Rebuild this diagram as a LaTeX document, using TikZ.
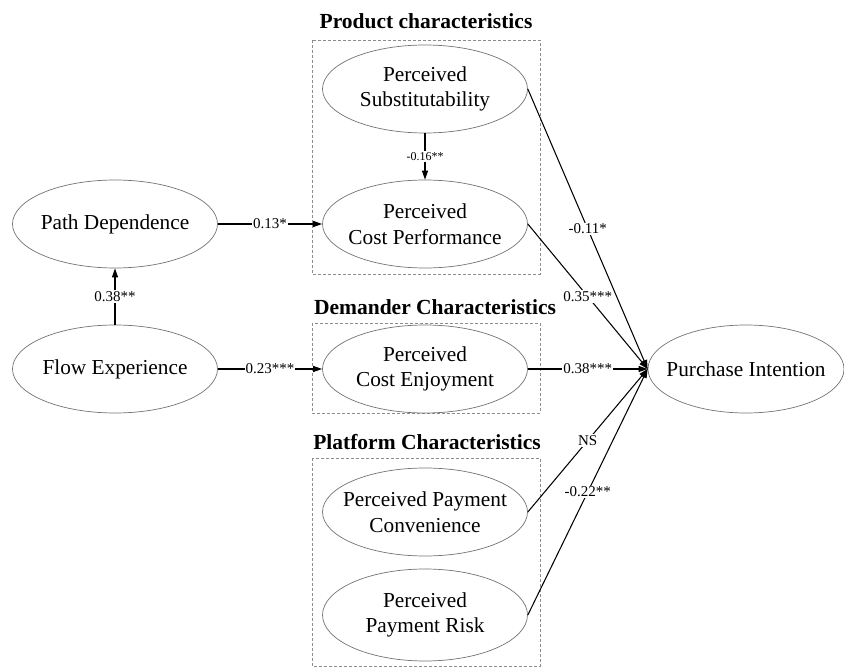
\documentclass[tikz,border=0pt]{standalone}
\usepackage{fontspec}
\setmainfont{Liberation Serif}
\usetikzlibrary{shapes.geometric,arrows.meta}
\begin{document}
\begin{tikzpicture}[x=1pt,y=-1pt,
  latent/.style={ellipse,draw=black!55,line width=0.7pt,minimum width=205pt,minimum height=88pt,inner xsep=-18pt,inner ysep=0pt,align=center,font=\fontsize{21.3}{25.5}\selectfont},
  groupbox/.style={draw=black!45,dashed,dash pattern=on 3pt off 2pt,line width=0.7pt},
  grouptitle/.style={font=\fontsize{21.5}{24}\selectfont\bfseries},
  path/.style={draw=black,line width=1.05pt,-{Triangle[length=9pt,width=6pt]}},
  coef/.style={fill=white,inner sep=1pt,font=\fontsize{15}{17}\selectfont},
  coefs/.style={fill=white,inner sep=1pt,font=\fontsize{12}{13}\selectfont}]
\useasboundingbox (0,0) rectangle (844,668);
% group boxes
\draw[groupbox] (312,40) rectangle (540,274);
\draw[groupbox] (312,323) rectangle (540,413);
\draw[groupbox] (312,458) rectangle (540,666);
\node[grouptitle] (t1) at (426,21) {Product characteristics};
\node[grouptitle] (t2) at (435,307) {Demander Characteristics};
\node[grouptitle] (t3) at (427,442) {Platform Characteristics};
% latent variables
\node[latent] (PS) at (425,89) {Perceived\\Substitutability};
\node[latent] (PCP) at (425,224) {Perceived\\Cost Performance};
\node[latent] (PD) at (115,224) {Path Dependence};
\node[latent] (FE) at (115,369) {Flow Experience};
\node[latent] (PCE) at (425,369) {Perceived\\Cost Enjoyment};
\node[latent] (PPC) at (425,512) {Perceived Payment\\Convenience};
\node[latent,minimum height=92pt] (PPR) at (425,615) {Perceived\\Payment Risk};
\node[latent,minimum width=196pt] (PI) at (746,369) {Purchase Intention};
% paths
\draw[path] (PS) -- node[coefs]{-0.16**} (PCP);
\draw[path] (FE) -- node[coef]{0.38**} (PD);
\draw[path] (PD) -- node[coef]{0.13*} (PCP);
\draw[path] (FE) -- node[coef]{0.23***} (PCE);
\draw[path] (PS.east) -- node[coef]{-0.11*} (PI.west);
\draw[path] (PCP.east) -- node[coef]{0.35***} (PI.west);
\draw[path] (PCE.east) -- node[coef]{0.38***} (PI.west);
\draw[path] (PPC.east) -- node[coef]{NS} (PI.west);
\draw[path] (PPR.east) -- node[coef]{-0.22**} (PI.west);
\end{tikzpicture}
\end{document}
